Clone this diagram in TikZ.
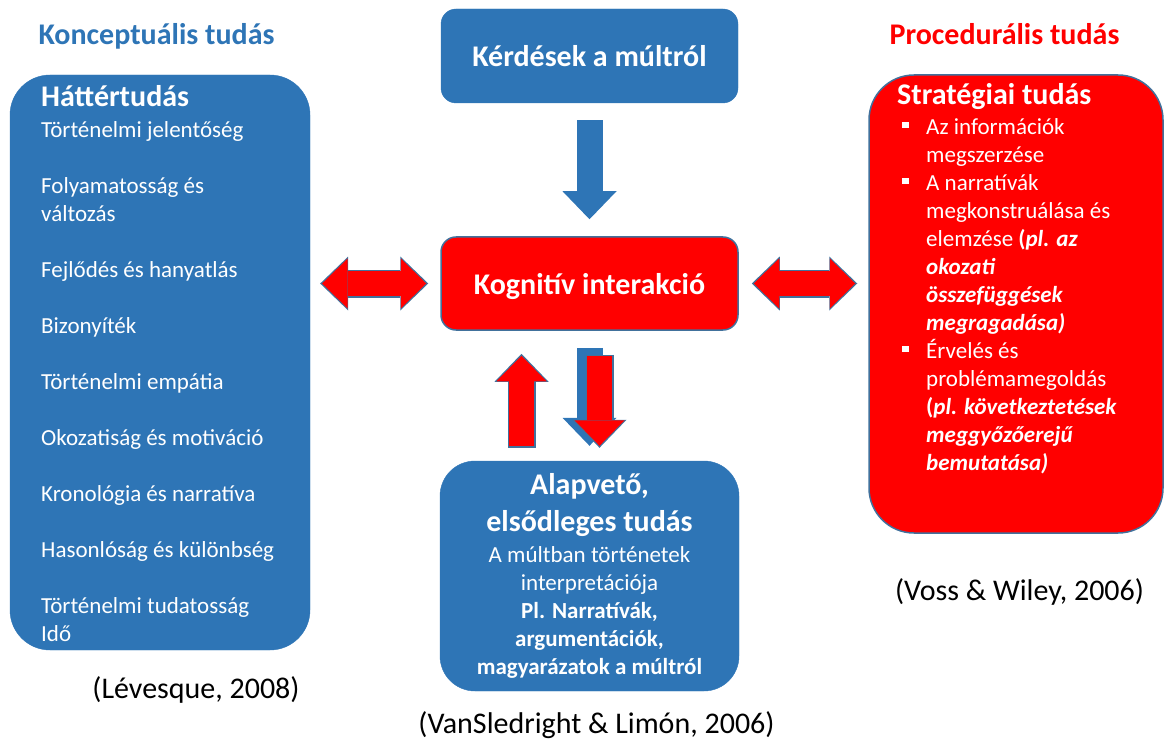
\documentclass[tikz,border=0pt]{standalone}
\usepackage{fontspec}
\setmainfont{Carlito}
\usepackage{tikz}
\usetikzlibrary{arrows.meta,positioning}
\definecolor{KBlue}{HTML}{2E75B6}
\definecolor{KRed}{HTML}{FF0000}
\definecolor{KEdge}{HTML}{41719C}
\newcommand{\boxtitle}{\bfseries\fontsize{30}{36.6}\selectfont}
\newcommand{\listfont}{\fontsize{23}{28}\selectfont\lineskiplimit=-50pt\relax}
\newcommand{\strongit}[1]{\textbf{\textit{#1}}}
\newcommand{\sqbul}{\hspace*{5pt}\rule[6pt]{6.5pt}{6.5pt}\hspace*{17.5pt}}
\newcommand{\sqind}{\hspace*{29pt}}

\begin{document}
\begin{tikzpicture}[
  x=1pt,y=-1pt,
  every node/.style={inner sep=0pt},
  lanehead/.style={anchor=base,font=\boxtitle},
  citetext/.style={anchor=base,font=\fontsize{30}{36}\selectfont},
  sidepanel/.style={draw=KBlue,fill=KBlue,rounded corners=40pt},
  bluebox/.style={draw=KBlue,fill=KBlue,rounded corners=15pt,text=white,
    minimum width=297pt,align=center},
  redbox/.style={draw=KEdge,line width=1.5pt,fill=KRed,rounded corners=15pt,
    text=white,minimum width=297pt,align=center},
  itemlist/.style={anchor=north west,text=white,align=left,font=\listfont},
  bluetip/.tip={Triangle[width=54pt,length=28pt,line width=0pt]},
  rimtip/.tip={Triangle[width=54pt,length=28pt,line width=0pt]},
  redtip/.tip={Triangle[width=50pt,length=25.5pt,line width=0pt]},
  blueline/.style={draw=KBlue,line width=26pt},
  rimline/.style={draw=KEdge,line width=28pt},
  redline/.style={draw=KRed,line width=25pt}
]
  \useasboundingbox (0,0) rectangle (1166,743);

  % boxes
  \node[sidepanel,minimum width=300pt,minimum height=575pt] (hatter) at (160,362.5) {};
  \node[redbox,rounded corners=45pt,minimum width=294pt,minimum height=458pt] (strat) at (1016,304) {};
  \node[bluebox,minimum height=94pt,font=\boxtitle] (kerdes) at (589.5,56) {Kérdések a múltról};
  \node[redbox,minimum height=93pt,font=\boxtitle,text depth=0pt] (kog) at (589.5,283.5) {Kognitív interakció};
  \node[bluebox,rounded corners=35pt,minimum width=299pt,minimum height=230pt,
    font=\listfont] (alap) at (589.5,576)
    {{\boxtitle Alapvető,}\\[8.6pt]
     {\boxtitle elsődleges tudás}\\[2.7pt]
     A múltban történetek\\
     interpretációja\\
     \textbf{Pl. Narratívák,}\\
     \textbf{argumentációk,}\\
     \textbf{magyarázatok a múltról}};

  % panel texts
  \node[itemlist] (hatterlist) at (41,85.5)
    {{\boxtitle Háttértudás}\\[2.7pt]
     Történelmi jelentőség\\[28pt]
     Folyamatosság és\\
     változás\\[28pt]
     Fejlődés és hanyatlás\\[28pt]
     Bizonyíték\\[28pt]
     Történelmi empátia\\[28pt]
     Okozatiság és motiváció\\[28pt]
     Kronológia és narratíva\\[28pt]
     Hasonlóság és különbség\\[28pt]
     Történelmi tudatosság\\
     Idő};
  \node[itemlist] (stratlist) at (897,83)
    {{\boxtitle Stratégiai tudás}\\[2pt]
     \sqbul Az információk\\
     \sqind megszerzése\\
     \sqbul A narratívák\\
     \sqind megkonstruálása és\\
     \sqind elemzése \textbf{(\textit{pl. az}}\\
     \sqind \strongit{okozati}\\
     \sqind \strongit{összefüggések}\\
     \sqind \strongit{megragadása)}\\
     \sqbul Érvelés és\\
     \sqind problémamegoldás\\
     \sqind \textbf{(\textit{pl. következtetések}}\\
     \sqind \strongit{meggyőzőerejű}\\
     \sqind \strongit{bemutatása)}};

  % headings and sources
  \node[lanehead,text=KBlue] (konc) at (156.5,44.5) {Konceptuális tudás};
  \node[lanehead,text=KRed] (proc) at (1004.5,44.5) {Procedurális tudás};
  \node[citetext] (levesque) at (196,698) {(Lévesque, 2008)};
  \node[citetext] (voss) at (1019.5,600) {(Voss \& Wiley, 2006)};
  \node[citetext] (vansled) at (596.5,733) {(VanSledright \& Limón, 2006)};

  % block arrows
  \draw[blueline,-bluetip,shorten <=17pt,shorten >=17pt] (kerdes) -- (kog);

  \draw[rimline,rimtip-rimtip,shorten <=10pt,shorten >=12pt] (hatter.east |- kog.west) -- (kog.west);
  \draw[redline,redtip-redtip,shorten <=12pt,shorten >=14pt] (hatter.east |- kog.west) -- (kog.west);
  \draw[rimline,rimtip-rimtip,shorten <=13pt,shorten >=11pt] (kog.east) -- (strat.west |- kog.east);
  \draw[redline,redtip-redtip,shorten <=15pt,shorten >=13pt] (kog.east) -- (strat.west |- kog.east);

  \draw[rimline,-rimtip,shorten <=13pt,shorten >=23pt] ([xshift=-68pt]alap.north) -- ([xshift=-68pt]kog.south);
  \draw[redline,-redtip,shorten <=14.5pt,shorten >=25pt] ([xshift=-68pt]alap.north) -- ([xshift=-68pt]kog.south);

  \draw[blueline,-bluetip,shorten <=17pt,shorten >=15pt] (kog) -- (alap);
  \draw[rimline,-rimtip,shorten <=24pt,shorten >=13pt] ([xshift=10pt]kog.south) -- ([xshift=10pt]alap.north);
  \draw[redline,-redtip,shorten <=25.5pt,shorten >=15pt] ([xshift=10pt]kog.south) -- ([xshift=10pt]alap.north);
\end{tikzpicture}
\end{document}
